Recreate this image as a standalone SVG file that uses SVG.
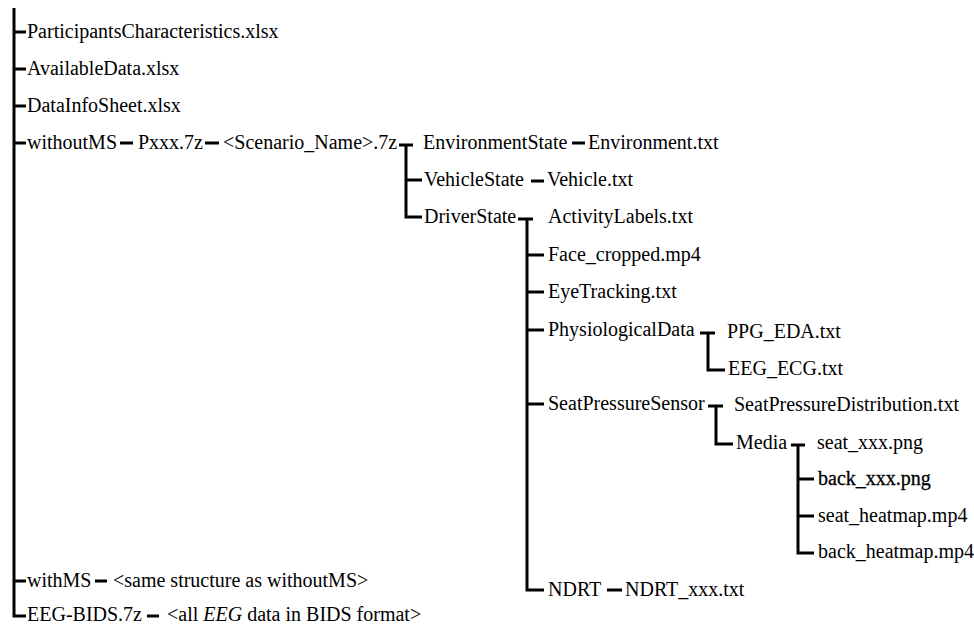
<svg xmlns="http://www.w3.org/2000/svg" width="974" height="627" viewBox="0 0 974 627">
<style>
text{font-family:"Liberation Serif","Times New Roman",serif;font-size:20px;fill:#000}
.b{stroke:#000;stroke-width:0.3}
#connectors path{fill:none;stroke:#000;stroke-width:3;stroke-linejoin:miter;stroke-linecap:butt}
</style>
<rect width="974" height="627" fill="#fff"/>
<g id="connectors">
<path d="M14 8 V616 H26"/>
<path d="M14 32 H26 M14 69 H26 M14 106 H26 M14 143 H26 M14 581 H26"/>
<path d="M120 143 H133 M205 143 H219"/>
<path d="M399 145 H413 M406 145 V217 H422 M406 180 H422"/>
<path d="M572 143 H585 M531 181 H544"/>
<path d="M518 219 H533 M527 219 V590 H544 M527 255 H544 M527 292 H544 M527 330 H544 M527 404 H544"/>
<path d="M700 333 H715 M708 333 V370 H725"/>
<path d="M708 406 H723 M716 406 V444 H733"/>
<path d="M791 445 H805 M798 445 V553 H814 M798 479 H814 M798 516 H814"/>
<path d="M607 590 H622"/>
<path d="M95 581 H107 M147 616 H159"/>
</g>
<g id="n_participants"><text x="27" y="38">ParticipantsCharacteristics.xlsx</text></g>
<g id="n_available"><text x="27" y="75">AvailableData.xlsx</text></g>
<g id="n_datainfo"><text x="27" y="112">DataInfoSheet.xlsx</text></g>
<g id="n_withoutms"><text x="27" y="149">withoutMS</text></g>
<g id="n_pxxx"><text x="138" y="149">Pxxx.7z</text></g>
<g id="n_scenario"><text x="223" y="149">&lt;Scenario_Name&gt;.7z</text></g>
<g id="n_env"><text x="423" y="149">EnvironmentState</text></g>
<g id="n_envtxt"><text x="588" y="149">Environment.txt</text></g>
<g id="n_vehicle"><text x="424" y="186">VehicleState</text></g>
<g id="n_vehtxt"><text x="547" y="186">Vehicle.txt</text></g>
<g id="n_driver"><text x="424" y="223">DriverState</text></g>
<g id="n_activity"><text x="548" y="223">ActivityLabels.txt</text></g>
<g id="n_face"><text x="548" y="261">Face_cropped.mp4</text></g>
<g id="n_eye"><text x="548" y="298">EyeTracking.txt</text></g>
<g id="n_physio"><text x="548" y="336">PhysiologicalData</text></g>
<g id="n_ppg"><text x="727" y="338">PPG_EDA.txt</text></g>
<g id="n_eegecg"><text x="728" y="375">EEG_ECG.txt</text></g>
<g id="n_seat"><text x="548" y="410">SeatPressureSensor</text></g>
<g id="n_seatdist"><text x="734" y="411">SeatPressureDistribution.txt</text></g>
<g id="n_media"><text x="736" y="449">Media</text></g>
<g id="n_seatpng"><text x="817" y="449">seat_xxx.png</text></g>
<g id="n_backpng"><text class="b" x="818" y="485">back_xxx.png</text></g>
<g id="n_seathm"><text x="818" y="522">seat_heatmap.mp4</text></g>
<g id="n_backhm"><text x="818" y="558">back_heatmap.mp4</text></g>
<g id="n_ndrt"><text x="548" y="596">NDRT</text></g>
<g id="n_ndrttxt"><text x="625" y="596">NDRT_xxx.txt</text></g>
<g id="n_withms"><text x="27" y="587">withMS</text></g>
<g id="n_same"><text x="113" y="587">&lt;same structure as withoutMS&gt;</text></g>
<g id="n_eegbids"><text x="27" y="621">EEG-BIDS.7z</text></g>
<g id="n_alleeg"><text x="167" y="621">&lt;all <tspan font-style="italic">EEG</tspan> data in BIDS format&gt;</text></g>
</svg>
